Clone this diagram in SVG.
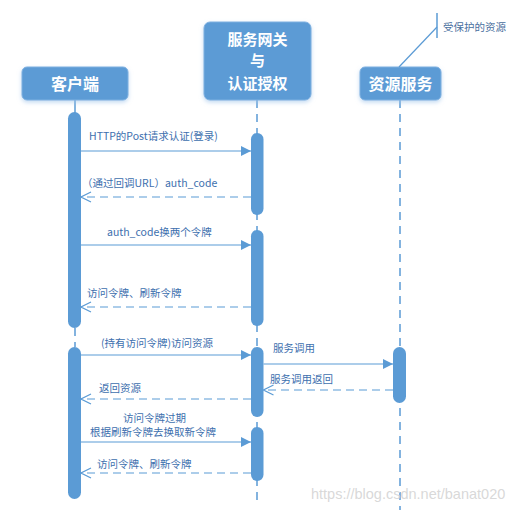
<svg xmlns="http://www.w3.org/2000/svg" width="531" height="513" viewBox="0 0 531 513">
<style>
.box{fill:#5b9bd5;stroke:#7fb0e0;stroke-width:1}
.bt{fill:#fff;font-family:"Noto Sans CJK SC","Noto Sans",sans-serif;font-size:16px;font-weight:bold;text-anchor:middle}
.gt{font-size:15px}
.bar{fill:#5b9bd5}
.life{stroke:#5b9bd5;stroke-width:1.5;stroke-dasharray:8 6;fill:none}
.msg{stroke:#5b9bd5;stroke-width:1.2;fill:none}
.ret{stroke:#5b9bd5;stroke-width:1.2;fill:none;stroke-dasharray:8 5}
.lbl{fill:#3d6fae;font-family:"Noto Sans CJK SC","Noto Sans",sans-serif;font-size:10.5px}
</style>
<defs>
<filter id="sh" x="-20%" y="-20%" width="140%" height="150%">
<feDropShadow dx="0" dy="2" stdDeviation="2" flood-color="#9cc3ea" flood-opacity="0.6"/>
</filter>
<marker id="fa" viewBox="0 0 10 10" refX="10" refY="5" markerWidth="10" markerHeight="10" markerUnits="userSpaceOnUse" orient="auto">
<path d="M0,0 L10,5 L0,10 Z" fill="#5b9bd5"/>
</marker>
<marker id="oa" viewBox="-1 -1 12 12" refX="10" refY="5" markerWidth="12" markerHeight="12" markerUnits="userSpaceOnUse" orient="auto">
<path d="M0,0 L10,5 L0,10" fill="none" stroke="#5b9bd5" stroke-width="1.2"/>
</marker>
</defs>
<rect width="531" height="513" fill="#fff"/>

<g id="lifelines">
<line x1="75" y1="100" x2="75" y2="113" stroke="#5b9bd5" stroke-width="1.5"/>
<line class="life" x1="75" y1="328" x2="75" y2="347"/>
<line class="life" x1="257" y1="100" x2="257" y2="506"/>
<line class="life" x1="400" y1="100" x2="400" y2="510"/>
</g>

<g id="client">
<rect class="box" x="22" y="67" width="106" height="33" rx="5" filter="url(#sh)"/>
<text class="bt" x="75" y="89.5">客户端</text>
</g>
<g id="gateway">
<rect class="box" x="204" y="22" width="107" height="78" rx="6" filter="url(#sh)"/>
<text class="bt gt" x="257.5" y="44.5">服务网关</text>
<text class="bt gt" x="257.5" y="65.5">与</text>
<text class="bt gt" x="257.5" y="88.5">认证授权</text>
</g>
<g id="resource">
<rect class="box" x="360" y="67" width="81" height="33" rx="5" filter="url(#sh)"/>
<text class="bt" x="400.5" y="89.5">资源服务</text>
</g>
<g id="note">
<line x1="399" y1="67" x2="437" y2="27" stroke="#5b9bd5" stroke-width="1.2"/>
<line x1="437" y1="13" x2="437" y2="38" stroke="#5b9bd5" stroke-width="1.5"/>
<text x="443" y="30.5" fill="#4a6f9e" font-family="'Noto Sans CJK SC','Noto Sans',sans-serif" font-size="10.5">受保护的资源</text>
</g>

<g id="activations">
<rect class="bar" x="68" y="112" width="13" height="216" rx="6.5"/>
<rect class="bar" x="68" y="347" width="13" height="152" rx="6.5"/>
<rect class="bar" x="251" y="133" width="12.5" height="82" rx="6.25"/>
<rect class="bar" x="251" y="230" width="12.5" height="96" rx="6.25"/>
<rect class="bar" x="251" y="347" width="12.5" height="70" rx="6.25"/>
<rect class="bar" x="251" y="427" width="12.5" height="54" rx="6.25"/>
<rect class="bar" x="393" y="347" width="13" height="56" rx="6.5"/>
</g>

<g id="connectors">
<line class="msg" x1="81" y1="151" x2="251" y2="151" marker-end="url(#fa)"/>
<line class="ret" x1="251" y1="197" x2="81" y2="197" marker-end="url(#oa)"/>
<line class="msg" x1="81" y1="245" x2="251" y2="245" marker-end="url(#fa)"/>
<line class="ret" x1="251" y1="307" x2="81" y2="307" marker-end="url(#oa)"/>
<line class="msg" x1="81" y1="355" x2="251" y2="355" marker-end="url(#fa)"/>
<line class="msg" x1="263.5" y1="364" x2="393" y2="364" marker-end="url(#fa)"/>
<line class="ret" x1="393" y1="390" x2="263.5" y2="390" marker-end="url(#oa)"/>
<line class="ret" x1="251" y1="399" x2="81" y2="399" marker-end="url(#oa)"/>
<line class="msg" x1="81" y1="442" x2="251" y2="442" marker-end="url(#fa)"/>
<line class="ret" x1="251" y1="473" x2="81" y2="473" marker-end="url(#oa)"/>
</g>

<g id="labels">
<text class="lbl" x="89" y="139.5">HTTP的Post请求认证(登录)</text>
<text class="lbl" x="82" y="186.5">（通过回调URL）auth_code</text>
<text class="lbl" x="107" y="235.5">auth_code换两个令牌</text>
<text class="lbl" x="87" y="296.5">访问令牌、刷新令牌</text>
<text class="lbl" x="101" y="346.5">(持有访问令牌)访问资源</text>
<text class="lbl" x="273" y="351.5">服务调用</text>
<text class="lbl" x="270" y="382.5">服务调用返回</text>
<text class="lbl" x="99" y="391.5">返回资源</text>
<text class="lbl" x="123" y="421.5">访问令牌过期</text>
<text class="lbl" x="90" y="435.5">根据刷新令牌去换取新令牌</text>
<text class="lbl" x="97" y="467.5">访问令牌、刷新令牌</text>
</g>

<text x="311" y="499" fill="#d4d4d4" fill-opacity="0.9" font-family="'Liberation Sans',Arial,sans-serif" font-size="14.5">https://blog.csdn.net/banat020</text>
</svg>
